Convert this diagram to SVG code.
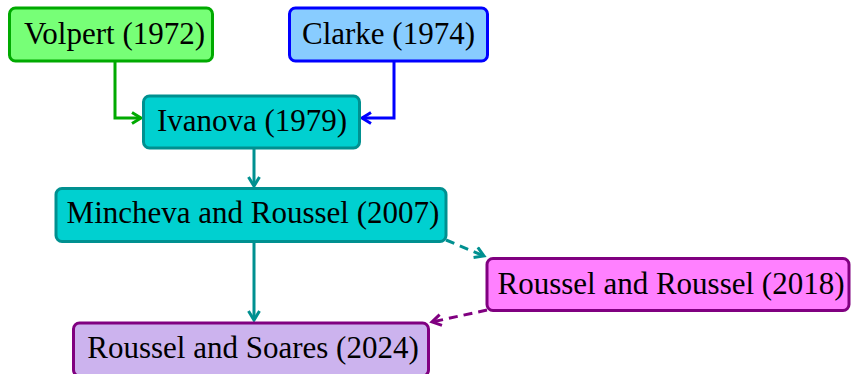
<svg xmlns="http://www.w3.org/2000/svg" width="852" height="374" viewBox="0 0 852 374">
<defs>
<style>
.box{stroke-width:3}
.t{font-family:"Liberation Serif","Times New Roman",serif;font-size:31px;fill:#000;text-anchor:middle}
.c{fill:none;stroke-width:3}
</style>
<marker id="aG" markerWidth="14" markerHeight="14" refX="11" refY="7" orient="auto" markerUnits="userSpaceOnUse"><path d="M2,1.5 L11,7 L2,12.5" fill="none" stroke="#00AA00" stroke-width="3"/></marker>
<marker id="aB" markerWidth="14" markerHeight="14" refX="11" refY="7" orient="auto" markerUnits="userSpaceOnUse"><path d="M2,1.5 L11,7 L2,12.5" fill="none" stroke="#0000FF" stroke-width="3"/></marker>
<marker id="aT" markerWidth="14" markerHeight="14" refX="11" refY="7" orient="auto" markerUnits="userSpaceOnUse"><path d="M2,1.5 L11,7 L2,12.5" fill="none" stroke="#009090" stroke-width="3"/></marker>
<marker id="aP" markerWidth="14" markerHeight="14" refX="11" refY="7" orient="auto" markerUnits="userSpaceOnUse"><path d="M2,1.5 L11,7 L2,12.5" fill="none" stroke="#800080" stroke-width="3"/></marker>
</defs>
<g id="connectors">
<path class="c" d="M115,61 V118 H141" stroke="#00AA00" marker-end="url(#aG)"/>
<path class="c" d="M394,61 V118 H362" stroke="#0000FF" marker-end="url(#aB)"/>
<path class="c" d="M254,148 V186" stroke="#009090" marker-end="url(#aT)"/>
<path class="c" d="M254,242 V320" stroke="#009090" marker-end="url(#aT)"/>
<path class="c" d="M446,240 L484,256" stroke="#009090" stroke-dasharray="9,6" marker-end="url(#aT)"/>
<path class="c" d="M487,310 L432,322" stroke="#800080" stroke-dasharray="9,6" marker-end="url(#aP)"/>
</g>
<g id="volpert"><rect class="box" x="9.5" y="8" width="203" height="53" rx="6" fill="#77FF77" stroke="#00AA00"/><text class="t" x="114.5" y="44">Volpert (1972)</text></g>
<g id="clarke"><rect class="box" x="289.5" y="8" width="198" height="53" rx="6" fill="#88CCFF" stroke="#0000FF"/><text class="t" x="388.5" y="44">Clarke (1974)</text></g>
<g id="ivanova"><rect class="box" x="143.5" y="96" width="216" height="52" rx="6" fill="#00D0D0" stroke="#009090"/><text class="t" x="252" y="131">Ivanova (1979)</text></g>
<g id="mincheva"><rect class="box" x="56" y="188.5" width="390" height="53" rx="6" fill="#00D0D0" stroke="#009090"/><text class="t" x="253" y="223">Mincheva and Roussel (2007)</text></g>
<g id="roussel2018"><rect class="box" x="487" y="258.5" width="362" height="52" rx="6" fill="#FF80FF" stroke="#800080"/><text class="t" x="671" y="294">Roussel and Roussel (2018)</text></g>
<g id="soares"><rect class="box" x="73.5" y="323" width="355" height="53" rx="6" fill="#CCB3EE" stroke="#800080"/><text class="t" x="253" y="358">Roussel and Soares (2024)</text></g>
</svg>
